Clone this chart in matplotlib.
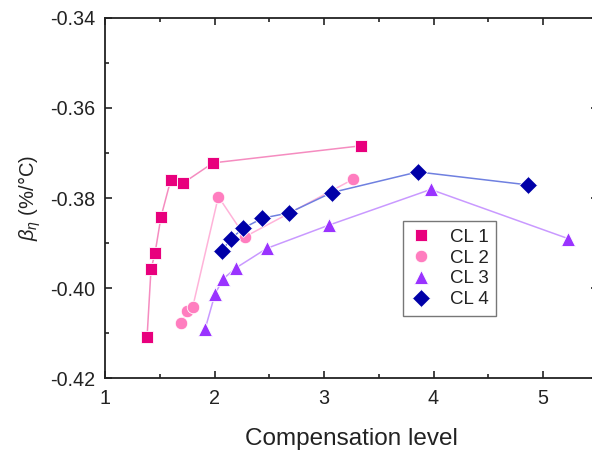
import matplotlib
matplotlib.use("Agg")
import matplotlib.pyplot as plt
from matplotlib.ticker import MultipleLocator

plt.rcParams['font.family'] = ['Liberation Sans', 'DejaVu Sans']
plt.rcParams['mathtext.fontset'] = 'custom'
plt.rcParams['mathtext.rm'] = 'Liberation Sans'
plt.rcParams['mathtext.it'] = 'Liberation Sans:italic'

# compensation level vs temperature coefficient of efficiency
cl1_x = [1.384, 1.420, 1.457, 1.511, 1.600, 1.712, 1.986, 3.338]
cl1_y = [-0.4109, -0.3958, -0.3922, -0.3842, -0.3760, -0.3767, -0.3722, -0.3684]

cl2_x = [1.697, 1.746, 1.801, 2.035, 2.279, 3.268]
cl2_y = [-0.4077, -0.4051, -0.4042, -0.3797, -0.3886, -0.3758]

cl3_x = [1.913, 2.005, 2.078, 2.192, 2.477, 3.048, 3.974, 5.226]
cl3_y = [-0.4092, -0.4013, -0.3980, -0.3956, -0.3912, -0.3860, -0.3781, -0.3890]

cl4_x = [2.066, 2.148, 2.263, 2.437, 2.680, 3.070, 3.856, 4.866]
cl4_y = [-0.3918, -0.3891, -0.3867, -0.3845, -0.3833, -0.3788, -0.3742, -0.3771]

labels = ['CL 1', 'CL 2', 'CL 3', 'CL 4']

fig = plt.figure(figsize=(5.92, 4.5), dpi=100)
ax = fig.add_axes([0.1774, 0.16, 0.8324, 0.8])

series = [
    (cl1_x, cl1_y, 's', 9, '#e8007d', '#f58cc0'),
    (cl2_x, cl2_y, 'o', 9, '#ff7dbf', '#ffb3d9'),
    (cl3_x, cl3_y, '^', 10.5, '#9a33ff', '#c999ff'),
    (cl4_x, cl4_y, 'D', 9, '#0000a8', '#6f80e0'),
]
handles = []
for (x, y, m, ms, mc, lc), lab in zip(series, labels):
    ax.plot(x, y, '-', color=lc, lw=1.1, zorder=2)
    h, = ax.plot(x, y, m, ms=ms, color=mc, mec='white', mew=0.6,
                 zorder=3, label=lab)
    handles.append(h)

ax.set_xlim(1, 5.5)
ax.set_ylim(-0.42, -0.34)
ax.xaxis.set_major_locator(MultipleLocator(1))
ax.xaxis.set_minor_locator(MultipleLocator(0.5))
ax.yaxis.set_major_locator(MultipleLocator(0.02))
ax.yaxis.set_minor_locator(MultipleLocator(0.01))
ax.yaxis.set_major_formatter(lambda v, p: f'{v:.2f}')

ax.tick_params(which='both', direction='in', top=True, right=True,
               labelsize=14.2, colors='#222222', width=1.2)
ax.tick_params(which='major', length=5)
ax.tick_params(axis='x', which='major', pad=8)
ax.tick_params(axis='y', which='major', pad=7)
ax.tick_params(which='minor', length=3)
for s in ax.spines.values():
    s.set_linewidth(1.3)
    s.set_color('#222222')

ax.set_xlabel('Compensation level', fontsize=17.5, color='#222222', labelpad=14)
ax.set_ylabel(r'$\beta_\eta$ (%/°C)', fontsize=14.5, color='#222222', labelpad=5)

leg = ax.legend(handles=handles, loc='upper left',
                bbox_to_anchor=(0.604, 0.436), fontsize=13.5,
                fancybox=False, edgecolor='#777777', framealpha=1,
                handlelength=1.2, handletextpad=0.9, borderpad=0.4,
                labelspacing=0.2, borderaxespad=0)
leg.get_frame().set_linewidth(1.0)
for t in leg.get_texts():
    t.set_color('#222222')

fig.savefig('out.png', dpi=100)
